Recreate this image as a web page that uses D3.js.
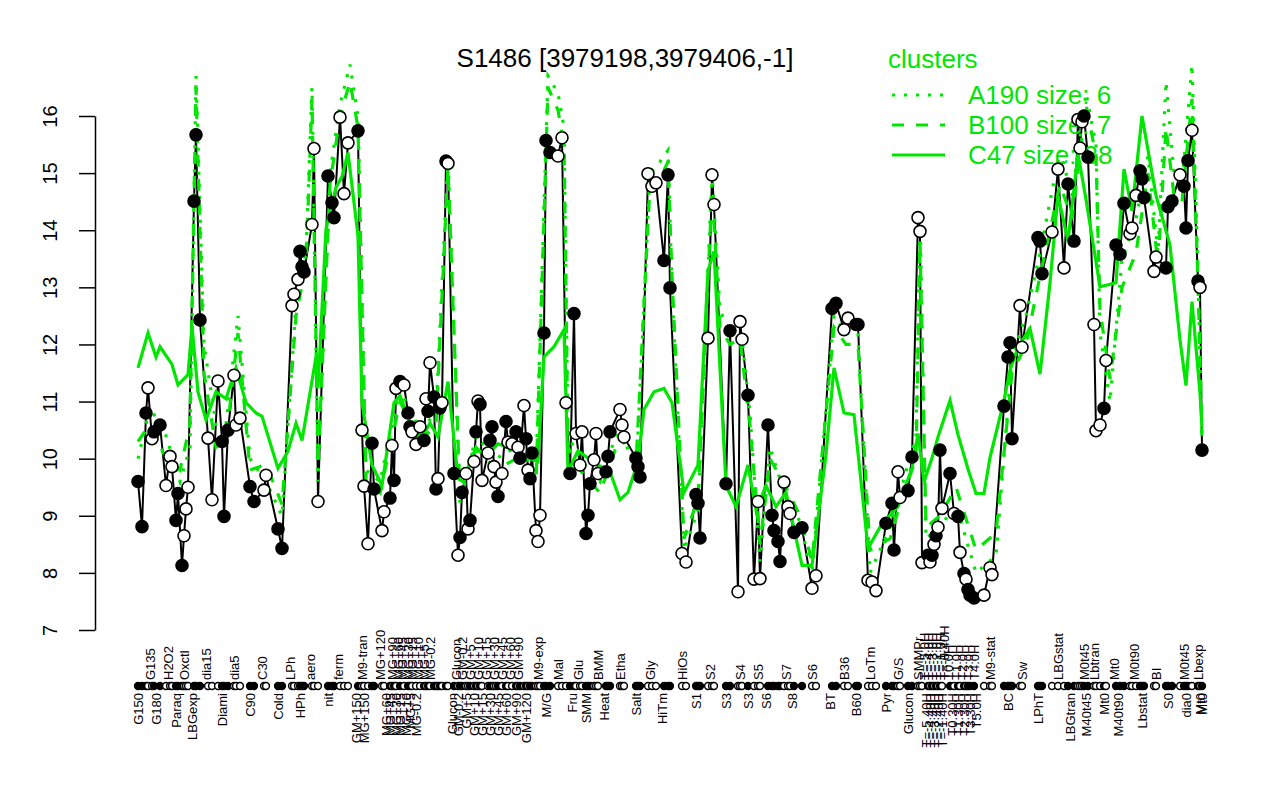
<!DOCTYPE html>
<html>
<head>
<meta charset="utf-8">
<script src="https://cdn.jsdelivr.net/npm/d3@7"></script>
<style>
body { margin: 0; background: #fff; }
text { font-family: "Liberation Sans", Arial, Helvetica, sans-serif; }
</style>
</head>
<body>
<script>
const width = 1280;
const height = 800;

// sample slot along the condition axis, expression value, filled marker
const samplePos = [
  0,2,4,5,7,8,11,14,16,17, 19,20,22,23,24,25,28,29,31,35,
  37,40,42,43,45,48,49,51,56,58, 63,64,70,72,77,78,80,81,82,83,
  87,88,90,95,97,98,101,103,105,110, 112,113,115,117,118,122,123,126,127,128,
  129,131,133,135,136,137,139,141,143,144, 145,146,148,149,150,151,152,154,155,158,
  160,161,162,164,165,166,168,169,170,171, 172,175,176,177,178,179,180,182,184,185,
  187,189,190,191,193,194,195,196,197,199, 200,201,203,204,206,210,212,214,216,218,
  219,221,222,224,225,226,228,229,230,234, 235,236,241,242,243,249,250,251,255,257,
  259,263,265,266,272,274,279,280,281,285, 287,288,294,296,300,301,302,305,308,310,
  311,315,317,318,320,321,323,325,326,328, 332,337,339,347,349,353,355,359,360,365,
  367,369,374,377,378,380,381,385,387,390, 391,392,395,396,397,398,399,400,401,402,
  406,408,410,411,413,414,415,416,418,423, 426,427,433,435,436,437,441,442,450,451,
  452,457,460,463,465,468,470,471,472,473, 475,478,479,481,483,484,489,491,493,496,
  497,499,501,502,503,508,509,514,515,517, 521,523,524,525,527,530,531,532
];
const sampleVal = [
  9.60,8.81,10.80,11.24,10.35,10.47,10.59,9.53,10.04,9.86,
  8.92,9.39,8.13,8.65,9.12,9.50,14.51,15.67,12.43,10.36,
  9.28,11.36,10.30,8.99,10.50,11.46,10.59,10.71,9.51,9.25,
  9.45,9.71,8.77,8.43,12.68,12.88,13.14,13.63,13.36,13.27,
  14.10,15.43,9.25,14.95,14.48,14.22,15.98,14.64,15.53,15.74,
  10.50,9.52,8.51,10.27,9.47,8.74,9.07,9.31,10.23,9.62,
  11.23,11.35,11.29,10.80,10.56,10.47,10.25,10.56,10.32,11.05,
  10.83,11.68,11.08,9.47,9.65,10.89,10.98,15.21,15.17,9.74,
  8.31,8.62,9.41,9.74,8.77,8.92,9.95,10.47,11.01,10.95,
  9.62,10.10,10.32,10.56,9.86,9.59,9.34,9.74,10.65,10.29,
  10.26,10.47,10.20,10.01,10.93,10.35,9.80,9.65,10.10,8.74,
  8.55,9.01,12.20,15.57,15.36,15.30,15.62,10.98,9.74,12.54,
  10.44,9.89,10.47,8.69,9.01,9.56,9.98,10.44,9.74,9.77,
  10.04,10.47,10.86,10.59,10.38,10.01,9.86,9.68,14.99,14.77,
  14.83,13.47,14.97,12.99,8.34,8.19,9.37,9.22,8.61,12.11,
  14.97,14.45,9.56,12.24,7.67,12.40,12.09,11.11,7.89,9.25,
  7.90,10.59,9.01,8.74,8.55,8.20,9.59,9.16,9.04,8.71,
  8.79,7.73,7.95,12.63,12.72,12.26,12.46,12.35,12.35,7.87,
  7.84,7.69,8.87,9.22,8.40,9.77,9.32,9.44,10.03,14.22,
  13.98,8.18,8.31,8.19,8.31,8.50,8.65,8.80,10.15,9.13,
  9.74,9.04,8.99,8.36,7.99,7.89,7.71,7.61,7.56,7.61,
  8.09,7.97,10.92,11.78,12.03,10.35,12.68,11.95,13.87,13.81,
  13.24,13.97,15.07,13.34,14.81,13.81,15.94,15.44,15.90,16.00,
  15.28,12.35,10.49,10.59,10.88,11.72,13.74,13.58,14.47,13.94,
  14.04,14.61,15.04,14.90,14.57,13.28,13.53,13.34,14.41,14.51,
  14.97,14.77,14.04,15.22,15.75,13.11,13.00,10.15
];
const sampleFilled = [
  1,1,1,0,0,1,1,0,0,0, 1,1,1,0,0,0,1,1,1,0,
  0,0,1,1,1,0,0,0,1,1, 0,0,1,1,0,0,0,1,1,1,
  0,0,0,1,1,1,0,0,0,1, 0,0,0,1,1,0,0,1,0,1,
  0,1,0,1,1,0,0,0,1,0, 1,0,1,1,0,1,0,1,0,1,
  0,1,1,0,0,1,0,1,0,1, 0,0,1,1,0,0,1,0,1,0,
  0,1,0,1,0,1,0,1,1,0, 0,0,1,1,1,0,0,0,1,1,
  0,0,0,1,1,1,0,0,0,1, 1,1,0,0,0,1,1,1,0,0,
  0,1,1,1,0,0,1,1,1,0, 0,0,1,1,0,0,0,1,0,0,
  0,1,1,1,1,1,0,0,0,1, 1,0,0,1,1,0,0,1,1,0,
  0,0,1,1,1,0,0,1,1,0, 0,0,1,0,1,0,1,0,1,0,
  1,0,1,0,1,0,1,1,1,0, 0,0,1,1,1,1,0,0,1,1,
  1,0,0,0,1,1,0,0,0,1, 1,0,0,0,1,0,1,1,1,0,
  0,0,1,1,1,0,0,1,1,1, 0,1,1,1,0,1,0,1
];

// cluster profiles
const clusterNames = ["A190", "B100", "C47"];
const clusterSizes = [6, 7, 38];

const abPos = [
  0,6,14,21,26,29,33,39,44,50, 56,64,72,79,84,87,90,96,101,106,
  110,114,121,131,141,149,155,161,169,179, 189,199,205,210,213,215,221,231,241,249,
  256,261,265,267,273,280,287,291,296,301, 306,311,316,324,331,337,348,354,360,366,
  376,381,389,391,394,401,409,419,429,437, 444,451,461,467,474,479,481,486,492,499,
  505,510,514,518,522,527,530,532
];
const a190Val = [
  10.0,10.9,10.4,9.6,10.2,16.7,12.0,10.6,10.6,12.5,
  10.0,9.6,9.0,12.7,13.6,16.5,9.6,15.0,16.2,16.9,
  16.0,9.8,9.6,11.2,10.5,10.8,15.3,9.2,10.4,10.0,
  10.2,9.8,16.7,16.4,15.8,10.4,10.0,9.6,10.6,9.7,
  15.0,15.2,15.4,13.0,8.4,9.1,15.0,12.6,12.2,12.4,
  10.8,8.2,10.2,9.3,8.9,8.0,12.5,12.2,12.2,8.0,
  8.8,9.4,10.4,14.3,8.6,8.8,9.2,8.0,8.3,11.8,
  12.5,13.6,15.4,14.6,16.4,15.5,12.2,11.0,13.5,14.2,
  15.3,13.6,16.6,15.0,14.8,16.9,13.2,10.3
];
const b100Val = [
  10.3,10.6,10.0,9.8,10.6,16.5,11.5,10.2,10.3,12.2,
  9.8,9.9,9.2,12.5,13.4,16.3,9.9,14.8,16.0,16.6,
  15.8,9.6,9.4,11.0,10.3,10.6,15.1,9.4,10.2,9.8,
  10.0,9.6,16.5,16.1,15.5,10.2,9.8,9.4,10.4,9.9,
  14.8,14.9,15.2,13.2,8.6,9.3,14.7,12.3,12.0,12.1,
  10.6,8.5,10.0,9.5,9.0,8.2,12.3,12.0,12.0,8.4,
  8.6,9.2,10.0,13.8,8.8,9.0,9.5,8.4,8.7,11.5,
  12.0,13.2,14.8,14.2,16.2,15.3,12.6,11.4,13.0,13.6,
  15.0,13.4,15.8,14.6,14.5,16.3,13.1,10.4
];
const c47Pos = [
  0,5,9,11,17,20,25,27,30,34, 39,44,49,54,59,62,70,75,79,82,
  89,90,94,99,102,105,110,112,117,122, 128,131,135,138,143,146,150,155,160,163,
  167,170,175,180,185,190,195,200,203,208, 213,215,220,225,230,236,241,245,250,253,
  258,263,267,273,280,285,288,294,299,305, 309,314,319,324,332,337,344,348,353,358,
  365,372,380,387,390,393,397,400,406,410, 415,419,423,426,433,436,440,446,451,456,
  460,465,470,474,481,489,493,497,502,509, 516,521,524,527,531,532
];
const c47Val = [
  11.59,12.20,11.78,11.96,11.65,11.29,11.47,12.32,11.17,10.68,
  11.17,11.05,11.59,10.98,10.80,10.74,9.83,10.13,10.62,10.32,
  11.78,11.23,14.02,14.75,14.94,15.36,13.90,10.98,9.89,9.53,
  10.98,11.10,10.74,10.38,10.44,10.62,10.38,11.35,9.65,9.59,
  10.08,10.14,10.08,10.26,10.20,10.14,10.01,9.95,11.78,11.96,
  12.26,9.77,10.14,10.01,9.89,9.77,9.28,9.41,9.95,10.86,
  11.17,11.23,10.98,9.41,9.89,13.29,13.63,9.53,9.16,9.89,
  9.10,9.53,9.16,9.41,8.13,8.13,10.07,11.59,10.80,10.77,
  8.43,8.86,9.16,9.83,10.44,9.59,10.01,10.38,11.02,10.42,
  9.82,9.39,9.39,10.02,11.02,11.55,11.95,12.28,11.48,13.08,
  14.61,13.81,15.34,14.54,13.01,13.08,15.07,14.34,16.0,14.61,
  13.74,12.08,11.28,12.75,11.15,10.55
];

// condition names, two staggered rows
const upperLabels = ["G135","H2O2","Oxctl","dia15","dia5","C30","LPh","aero","ferm","M9-tran",
  "MG+120","MG+90","MG+60","MG+45","MG+30","MG+15","MG+10","MG+5","MG-0.2","Glucon",
  "GM-0.2","GM+5","GM+10","GM+15","GM+30","GM+45","GM+60","GM+90","M9-exp","Mal",
  "Glu","BMM","Etha","Gly","HiOs","S2","S4","S5","S7","S6",
  "B36","LoTm","G/S","SMMPr","T=-5.0H","T=-4.0H","T=-3.0H","T=-2.0H","T=-1.0H","T=-0.40H",
  "T0.0H","T1.0H","T2.0H","T3.0H","T4.0H","M9-stat","Sw","LBGstat","M0t45","Lbtran",
  "Mt0","M0t90","BI","M0t45","Lbexp"];
const upperPos = [6,15,23,34,48,62,76,86,100,112,
  121,127,130,132,135,137,140,143,146,159,
  162,166,170,174,178,182,186,190,200,210,
  220,230,241,256,272,286,301,310,324,337,
  353,366,380,390,393,395,397,399,401,403,
  405,409,412,415,418,426,442,460,473,478,
  488,498,509,523,530];
const lowerLabels = ["G150","G180","Paraq","LBGexp","Diami","C90","Cold","HPh","nit","GM+150",
  "MG+150","MG+60","MG+45","MG+30","MG+15","MG+10","MG+5","MG-0.2","Glucon","GM-0.2",
  "GM+5","GM+10","GM+15","GM+30","GM+45","GM+60","GM+90","GM+120","M/G","Fru",
  "SMM","Heat","Salt","HiTm","S1","S3","S3","S6","S8","BT",
  "B60","Pyr","Glucon","T=-5.40H","T=-4.40H","T=-3.40H","T=-2.40H","T=-1.40H","T0.30H","T1.30H",
  "T2.30H","T3.30H","T5.0H","BC","LPhT","LBGtran","M40t45","Mt0","M40t90","Lbstat",
  "S0","dia0","Mt0","Mt0"];
const lowerPos = [0,9,19,27,42,56,70,81,95,109,
  113,124,126,129,131,134,136,139,157,160,
  164,168,172,176,180,184,189,194,204,217,
  224,233,249,262,279,294,305,314,327,346,
  359,374,385,394,396,398,400,402,407,410,
  413,416,419,435,450,466,474,483,490,502,
  515,524,531,532];

const yTicks = [7, 8, 9, 10, 11, 12, 13, 14, 15, 16];
const green = "#00e600";

let svg = d3.select('body')
            .append('svg')
            .attr('width', width)
            .attr('height', height);

let x = d3.scaleLinear().domain(d3.extent(samplePos)).range([138, 1202]);
let y = d3.scaleLinear().domain([7, 16]).range([630, 116]);

let points = d3.zip(samplePos, sampleVal, sampleFilled);
let line = d3.line().x(d => x(d[0])).y(d => y(d[1]));

// title
svg.append('text')
   .attr('x', 625)
   .attr('y', 67)
   .attr('text-anchor', 'middle')
   .attr('font-size', 26)
   .text('S1486 [3979198,3979406,-1]');

// y axis
let yAxis = svg.append('g')
   .attr('transform', 'translate(95,0)')
   .call(d3.axisLeft(y).tickValues(yTicks).tickSize(16).tickSizeOuter(0).tickFormat(d3.format('d')));
yAxis.select('.domain').attr('stroke-width', 1.5);
yAxis.selectAll('.tick line').attr('stroke-width', 1.5);
yAxis.selectAll('.tick text')
   .attr('x', null)
   .attr('dy', null)
   .attr('transform', 'translate(-38,0) rotate(-90)')
   .attr('text-anchor', 'middle')
   .attr('font-size', 20)
   .attr('font-family', '"Liberation Sans", Arial, sans-serif')
   .attr('fill', '#000');

// black profile
svg.append('path')
   .datum(points)
   .attr('d', line)
   .attr('fill', 'none')
   .attr('stroke', '#000')
   .attr('stroke-width', 2);

// cluster profiles
let dashes = ['3,9', '12,12', null];
let clusterSeries = [d3.zip(abPos, a190Val), d3.zip(abPos, b100Val), d3.zip(c47Pos, c47Val)];
clusterSeries.forEach((s, i) => {
    svg.append('path')
       .datum(s)
       .attr('d', line)
       .attr('fill', 'none')
       .attr('stroke', green)
       .attr('stroke-width', 3.2)
       .attr('stroke-dasharray', dashes[i]);
});

// legend
svg.append('text')
   .attr('x', 888)
   .attr('y', 68)
   .attr('font-size', 26)
   .attr('fill', green)
   .text('clusters');
clusterNames.forEach((name, i) => {
    let ly = 95 + i * 30;
    svg.append('line')
       .attr('x1', 892).attr('x2', 945)
       .attr('y1', ly).attr('y2', ly)
       .attr('stroke', green)
       .attr('stroke-width', 3.2)
       .attr('stroke-dasharray', dashes[i]);
    svg.append('text')
       .attr('x', 968)
       .attr('y', ly + 9)
       .attr('font-size', 26)
       .attr('fill', green)
       .text(name + ' size: ' + clusterSizes[i]);
});

// points
svg.selectAll('circle.pt')
   .data(points)
   .enter()
   .append('circle')
   .attr('class', 'pt')
   .attr('cx', d => x(d[0]))
   .attr('cy', d => y(d[1]))
   .attr('r', 6)
   .attr('fill', d => d[2] ? '#000' : '#fff')
   .attr('stroke', '#000')
   .attr('stroke-width', 1.6);

// rug of samples
svg.selectAll('circle.rug')
   .data(points)
   .enter()
   .append('circle')
   .attr('class', 'rug')
   .attr('cx', d => x(d[0]))
   .attr('cy', 686)
   .attr('r', 3.4)
   .attr('fill', d => d[2] ? '#000' : '#fff')
   .attr('stroke', '#000')
   .attr('stroke-width', 1.5);

// condition labels
svg.selectAll('text.up')
   .data(d3.zip(upperLabels, upperPos))
   .enter()
   .append('text')
   .attr('class', 'up')
   .attr('transform', d => 'translate(' + x(d[1]) + ',680) rotate(-90)')
   .attr('dy', '0.35em')
   .attr('font-size', 13)
   .text(d => d[0]);

svg.selectAll('text.low')
   .data(d3.zip(lowerLabels, lowerPos))
   .enter()
   .append('text')
   .attr('class', 'low')
   .attr('transform', d => 'translate(' + x(d[1]) + ',693) rotate(-90)')
   .attr('dy', '0.35em')
   .attr('text-anchor', 'end')
   .attr('font-size', 13)
   .text(d => d[0]);
</script>
</body>
</html>
